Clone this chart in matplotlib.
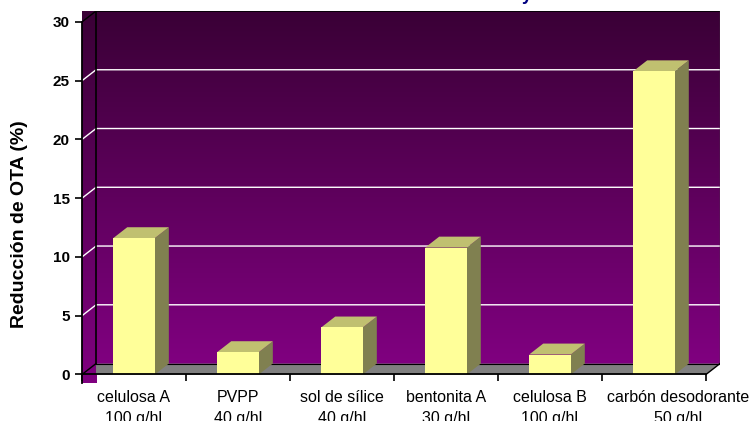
import numpy as np
import matplotlib
matplotlib.use("Agg")
import matplotlib.pyplot as plt
from matplotlib.colors import LinearSegmentedColormap
from matplotlib.patches import Polygon
from matplotlib.transforms import offset_copy

plt.rcParams['font.family'] = ['Liberation Sans', 'DejaVu Sans']

# datos
categorias = ["celulosa A\n100 g/hl", "PVPP\n40 g/hl", "sol de sílice\n40 g/hl",
              "bentonita A\n30 g/hl", "celulosa B\n100 g/hl", "carbón desodorante\n50 g/hl"]
reduccion = [11.6, 1.9, 4.0, 10.8, 1.7, 25.8]
yticks = [0, 5, 10, 15, 20, 25, 30]

# profundidad del efecto 3D (en unidades de datos)
dx, dy = 0.135, 0.93
ymax = 30
ylo = -0.75
half = 0.2

W, H = 749, 421
fig = plt.figure(figsize=(W / 100, H / 100), dpi=100)
left_px, right_px = 82, 720
bot_px, top_px = 383.3, 11
ax = fig.add_axes([left_px / W, (H - bot_px) / H, (right_px - left_px) / W, (bot_px - top_px) / H])
n = len(categorias)
x0, x1 = -0.5, n - 0.5

# fondo degradado (pared trasera y lateral), oscuro arriba
cmap = LinearSegmentedColormap.from_list("fondo", ["#3a0036", "#800080"])
grad = np.linspace(0, 1, 256).reshape(-1, 1)
ax.imshow(grad, cmap=cmap, aspect='auto', origin='upper',
          extent=[x0 + dx, x1 + dx, dy, ymax + dy], zorder=0)
ax.imshow(grad, cmap=cmap, aspect='auto', origin='upper',
          extent=[x0, x0 + dx, ylo, ymax + dy], zorder=0)

# suelo
ax.add_patch(Polygon([(x0 + dx, 0), (x1, 0), (x1 + dx, dy), (x0 + dx, dy)],
                     closed=True, facecolor="#808080", edgecolor="none", zorder=1))

# lineas de division
for v in yticks[1:-1]:
    ax.plot([x0, x0 + dx, x1 + dx], [v, v + dy, v + dy], color="white", lw=1.0, zorder=1)

# bordes de las paredes
ax.plot([x0 + dx, x0 + dx, x1 + dx], [dy, ymax + dy, ymax + dy], color="black", lw=1.2, zorder=2)
ax.plot([x0 + dx, x1 + dx], [dy, dy], color="black", lw=0.8, zorder=2)
ax.plot([x1 + dx, x1 + dx], [dy, ymax + dy], color="#404040", lw=1.0, zorder=2)
ax.plot([x0, x0 + dx], [0, dy], color="black", lw=1.0, zorder=2)
ax.plot([x0, x0 + dx], [ymax, ymax + dy], color="black", lw=1.0, zorder=2)
ax.plot([x1, x1 + dx], [0, dy], color="black", lw=1.0, zorder=2)

# barras 3D
for i, v in enumerate(reduccion):
    a, b = i - half, i + half
    ax.add_patch(Polygon([(b, 0), (b + dx, dy), (b + dx, v + dy), (b, v)],
                         closed=True, facecolor="#808050", edgecolor="none", zorder=3))
    ax.add_patch(Polygon([(a, v), (b, v), (b + dx, v + dy), (a + dx, v + dy)],
                         closed=True, facecolor="#c0c070", edgecolor="none", zorder=3))
    ax.add_patch(Polygon([(a, 0), (b, 0), (b, v), (a, v)],
                         closed=True, facecolor="#ffff99", edgecolor="none", zorder=3))

ax.set_xlim(x0, x1 + dx)
ax.set_ylim(ylo, ymax + dy)

for s in ["top", "right"]:
    ax.spines[s].set_visible(False)
ax.spines["left"].set_bounds(ylo, ymax)
ax.spines["left"].set_linewidth(1.3)
ax.spines["bottom"].set_position(("data", 0))
ax.spines["bottom"].set_bounds(x0, x1)
ax.spines["bottom"].set_linewidth(1.3)
ax.spines["left"].set_zorder(4)
ax.spines["bottom"].set_zorder(4)

ax.set_yticks(yticks)
ax.set_yticklabels([str(t) for t in yticks], fontsize=11, fontweight="bold")
ax.set_xticks(np.arange(-0.5, n, 1.0))
ax.set_xticklabels([])
ax.set_xticks(np.arange(n), minor=True)
ax.set_xticklabels(categorias, minor=True, fontsize=11.5, linespacing=1.5)
ax.tick_params(axis="y", direction="out", length=5, width=1.2, pad=4)
ax.tick_params(axis="x", which="major", direction="out", length=5, width=1.2)
ax.tick_params(axis="x", which="minor", length=0, pad=11)

# la ultima etiqueta se desplaza a la derecha para no pisar la anterior
ultima = ax.xaxis.get_minorticklabels()[-1]
ultima.set_transform(offset_copy(ultima.get_transform(), fig=fig, x=24, y=0, units='dots'))

fig.text(20 / W, 1 - 224 / H, "Reducción de OTA (%)", rotation=90, fontsize=14,
         fontweight="bold", ha="center", va="center")
fig.text(522 / W, 1.0, "y", fontsize=13, fontweight="bold", color="#000080",
         ha="left", va="baseline")

fig.savefig("out.png", dpi=100)
